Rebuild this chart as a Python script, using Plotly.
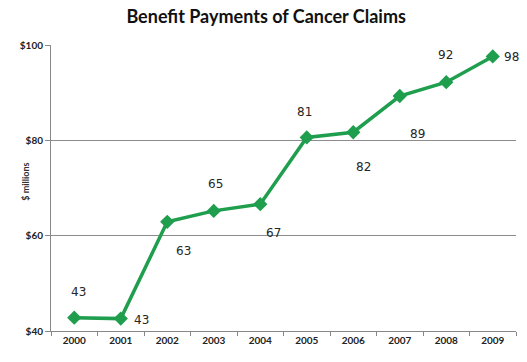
import plotly.graph_objects as go

# Benefit payments of cancer claims, $ millions
years = ["2000", "2001", "2002", "2003", "2004", "2005", "2006", "2007", "2008", "2009"]
payments = [42.8, 42.6, 62.9, 65.2, 66.6, 80.6, 81.7, 89.3, 92.2, 97.6]

y_ticks = [40, 60, 80, 100]
y_tick_text = ["$40", "$60", "$80", "$100"]

# pixel offsets for each value label (right, up)
label_dx = [4, 21, 16, 2, 13, -2, 10, 18, -1, 19]
label_dy = [26, -1, -29, 27, -29, 25, -35, -38, 27, -1]

green = "#1f9e4e"

fig = go.Figure(
    go.Scatter(
        x=years,
        y=payments,
        mode="lines+markers",
        line=dict(color=green, width=3.5),
        marker=dict(symbol="diamond", size=11, color=green),
        hoverinfo="x+y",
    )
)

# value labels, placed by category index on the category axis
for i, (val, dx, dy) in enumerate(zip(payments, label_dx, label_dy)):
    fig.add_annotation(
        x=i, y=val, xref="x", yref="y",
        text=f"{val:.0f}", showarrow=False,
        xshift=dx, yshift=dy,
        font=dict(family="DejaVu Sans", size=12, color="#262626"),
    )

fig.add_annotation(
    x=0, y=0.52, xref="paper", yref="paper",
    text="<b>$ millions</b>", textangle=-90, showarrow=False,
    xshift=-33,
    font=dict(family="Lato", size=9, color="#333333"),
)

fig.update_layout(
    width=527, height=362,
    margin=dict(l=51, r=11, t=45, b=31),
    paper_bgcolor="white", plot_bgcolor="white",
    showlegend=False,
    title=dict(
        text="<b>Benefit Payments of Cancer Claims</b>",
        x=0.505, xanchor="center", y=0.953, yanchor="middle",
        font=dict(family="Lato", size=18, color="#111111"),
    ),
    xaxis=dict(
        type="category",
        range=[-0.5, 9.5],
        showline=True, linecolor="#888888", linewidth=1,
        showgrid=False, zeroline=False,
        ticks="outside", tickson="boundaries", ticklen=4, tickcolor="#888888",
        tickfont=dict(family="Lato", size=10, color="#222222", weight="bold"),
    ),
    yaxis=dict(
        range=[40, 100],
        tickvals=y_ticks, ticktext=y_tick_text,
        showline=True, linecolor="#888888", linewidth=1,
        showgrid=True, gridcolor="#8c8c8c", gridwidth=1,
        zeroline=False,
        ticks="outside", ticklen=5, tickcolor="#888888",
        tickfont=dict(family="Lato", size=10, color="#222222", weight="bold"),
    ),
)

fig.write_html("out.html")
